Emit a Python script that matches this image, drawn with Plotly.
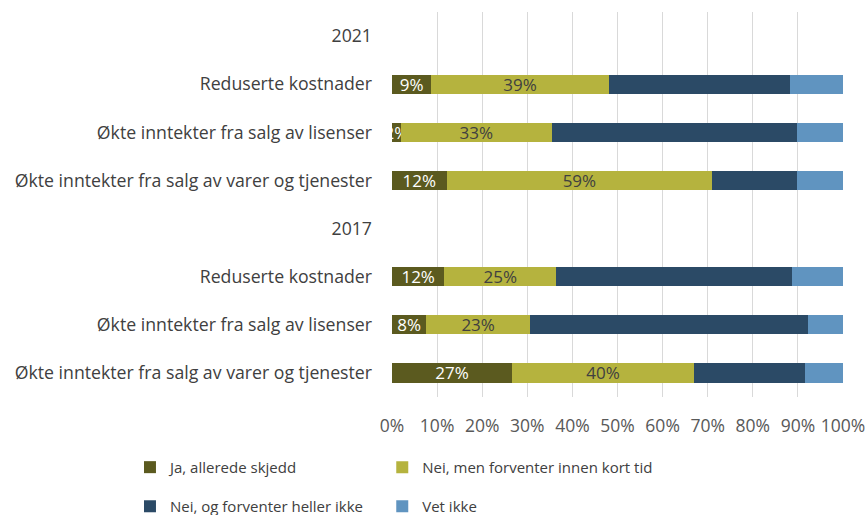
import plotly.graph_objects as go

categories = ["2021", "Reduserte kostnader", "Økte inntekter fra salg av lisenser",
              "Økte inntekter fra salg av varer og tjenester", "2017", "Reduserte kostnader",
              "Økte inntekter fra salg av lisenser", "Økte inntekter fra salg av varer og tjenester"]
bar_rows = [1, 2, 3, 5, 6, 7]  # indexes into categories that carry bars

ja = [8.7, 2.0, 12.1, 11.6, 7.6, 26.6]
nei_kort = [39.4, 33.4, 58.9, 24.8, 23.0, 40.4]
nei_ikke = [40.2, 54.4, 18.8, 52.4, 61.6, 24.6]
vet_ikke = [11.7, 10.2, 10.2, 11.2, 7.8, 8.4]

series_names = ["Ja, allerede skjedd", "Nei, men forventer innen kort tid",
                "Nei, og forventer heller ikke", "Vet ikke"]
colors = ["#5B5A1F", "#B5B33E", "#2B4A66", "#6094C0"]
label_colors = ["#FFFFFF", "#404040", None, None]
x_ticks = list(range(0, 101, 10))

# legend grid placement (paper coords): two columns, two rows
legend_x = [-0.581, -0.0216, -0.581, -0.0216]
legend_y = [-0.140, -0.140, -0.2416, -0.2416]
legend_ids = ["legend", "legend2", "legend3", "legend4"]

FONT = "Open Sans"
fig = go.Figure()
for i, (name, vals) in enumerate(zip(series_names, [ja, nei_kort, nei_ikke, vet_ikke])):
    kw = {}
    if label_colors[i]:
        kw = dict(texttemplate="%{x:.0f}%", textposition="inside", insidetextanchor="middle",
                  constraintext="none", textangle=0,
                  textfont=dict(family=FONT, size=17, color=label_colors[i]))
    fig.add_trace(go.Bar(
        y=bar_rows, x=vals, name=name, orientation="h", width=0.4,
        marker=dict(color=colors[i], line=dict(width=0)),
        legend=legend_ids[i],
        hoverinfo="skip", **kw))

legend_layout = {}
for i, lid in enumerate(legend_ids):
    legend_layout[lid] = dict(orientation="h", x=legend_x[i], y=legend_y[i],
                              xanchor="left", yanchor="top",
                              font=dict(size=15, color="#404040"),
                              bgcolor="rgba(0,0,0,0)")

fig.update_layout(
    barmode="stack",
    width=867, height=515,
    margin=dict(l=392, r=24, t=12, b=118, autoexpand=False),
    paper_bgcolor="white", plot_bgcolor="white",
    font=dict(family=FONT, size=15, color="#595959"),
    xaxis=dict(range=[0, 100], tickvals=x_ticks, ticktext=[f"{v}%" for v in x_ticks],
               showgrid=True, gridcolor="#D9D9D9", gridwidth=1, zeroline=False,
               showline=False, ticks="", tickfont=dict(size=17.5, color="#595959"),
               ticklabelstandoff=16, automargin=False),
    yaxis=dict(range=[7.5, -0.5], tickvals=list(range(len(categories))), ticktext=categories,
               showgrid=False, zeroline=False, showline=False, ticks="",
               tickfont=dict(size=17.7, color="#404040"), ticklabelstandoff=19,
               automargin=False),
    showlegend=True,
    **legend_layout,
)

fig.write_html("out.html", config={"displayModeBar": False},
               post_script="document.body.style.margin='0';")
